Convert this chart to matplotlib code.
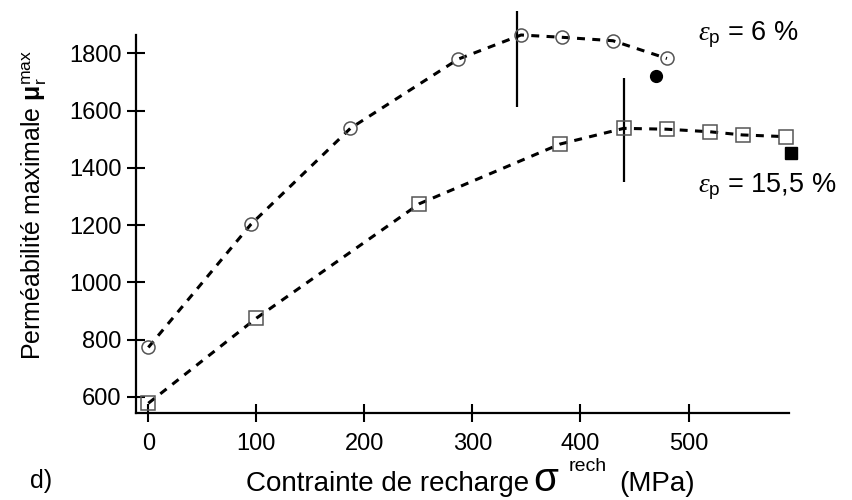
import matplotlib
matplotlib.use("Agg")
import matplotlib.pyplot as plt

plt.rcParams['font.family'] = ['Liberation Sans', 'DejaVu Sans']
plt.rcParams['mathtext.fontset'] = 'custom'
plt.rcParams['mathtext.rm'] = 'Liberation Sans'
plt.rcParams['mathtext.it'] = 'Liberation Serif:italic'
plt.rcParams['mathtext.bf'] = 'Liberation Sans:bold'

# data
x_6 = [0, 95, 187, 287, 345, 383, 430, 480]
y_6 = [773, 1203, 1538, 1780, 1864, 1856, 1844, 1782]
x_15 = [0, 100, 251, 381, 440, 480, 520, 550, 590]
y_15 = [578, 875, 1275, 1483, 1538, 1535, 1526, 1515, 1509]
x_6_filled = [470]
y_6_filled = [1721]
x_15_filled = [595]
y_15_filled = [1453]
vline_x = [341, 440]
vline_ymin = [1614, 1352]
vline_ymax = [1948, 1714]
xticks = [0, 100, 200, 300, 400, 500]
yticks = [600, 800, 1000, 1200, 1400, 1600, 1800]

W, H = 852, 500
fig = plt.figure(figsize=(W / 100, H / 100), dpi=100)
ax = fig.add_axes([136 / W, 1 - 413 / H, (789 - 136) / W, (413 - 35) / H])

ax.set_xlim(-11.4, 593)
ax.set_ylim(544, 1864)

for xs, ys, mk in [(x_6, y_6, 'o'), (x_15, y_15, 's')]:
    ax.plot(xs, ys, color='black', lw=2.2, dashes=(2.6, 2.4), zorder=2, clip_on=False)
    ax.plot(xs, ys, linestyle='none', marker=mk, markersize=9.4,
            markerfacecolor='none', markeredgecolor='#555555', markeredgewidth=1.1,
            zorder=3, clip_on=False)

ax.plot(x_6_filled, y_6_filled, 'o', color='black', markersize=8.5, clip_on=False)
ax.plot(x_15_filled, y_15_filled, 's', color='black', markersize=8.5, clip_on=False)

ax.vlines(vline_x, vline_ymin, vline_ymax, color='black', lw=1.6, clip_on=False)

for s in ['top', 'right']:
    ax.spines[s].set_visible(False)
for s in ['left', 'bottom']:
    ax.spines[s].set_linewidth(1.6)

ax.set_xticks(xticks)
ax.set_yticks(yticks)
ax.tick_params(direction='inout', length=13, width=1.5, labelsize=17)
ax.tick_params(axis='x', pad=8)
ax.tick_params(axis='y', pad=4)

def fx(px):
    return px / W

def fy(py):
    return 1 - py / H

fig.text(fx(34), fy(205), r'Perméabilité maximale $\mathbf{\mu}_{\mathrm{r}}^{\mathrm{max}}$',
         fontsize=18, rotation=90, ha='center', va='center')

fig.text(fx(246), fy(491), 'Contrainte de recharge', fontsize=20, ha='left', va='baseline')
fig.text(fx(533), fy(491), 'σ', fontsize=29, ha='left', va='baseline')
fig.text(fx(569), fy(471), 'rech', fontsize=14, ha='left', va='baseline')
fig.text(fx(619), fy(491), '(MPa)', fontsize=20, ha='left', va='baseline')
fig.text(fx(30), fy(488), 'd)', fontsize=18, ha='left', va='baseline')

fig.text(fx(698), fy(40), r'$\varepsilon_{\mathrm{p}}$ = 6 %', fontsize=19.5, ha='left', va='baseline')
fig.text(fx(698), fy(192), r'$\varepsilon_{\mathrm{p}}$ = 15,5 %', fontsize=19.5, ha='left', va='baseline')

fig.savefig('out.png', dpi=100, facecolor='white')
